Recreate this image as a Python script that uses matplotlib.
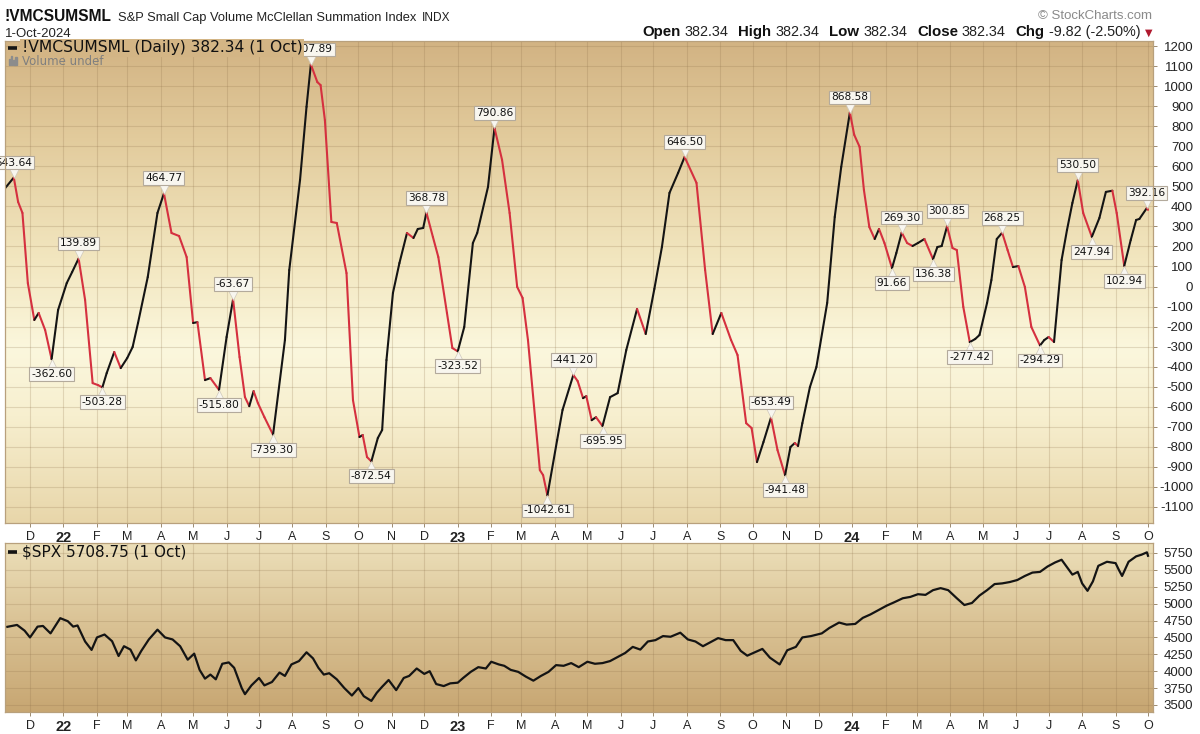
import numpy as np
import pandas as pd
import matplotlib
matplotlib.use("Agg")
import matplotlib.pyplot as plt
import matplotlib.dates as mdates
import matplotlib.transforms as mtransforms
from matplotlib.collections import LineCollection
from matplotlib.colors import to_rgb

plt.rcParams['axes.unicode_minus'] = False

# ---------------- data ----------------
sum_dates = [
    "2021-11-08", "2021-11-16", "2021-11-20", "2021-11-24", "2021-11-29", "2021-12-05", "2021-12-09",
    "2021-12-15", "2021-12-21", "2021-12-27", "2022-01-04", "2022-01-09", "2022-01-15", "2022-01-21",
    "2022-01-28", "2022-02-02", "2022-02-06", "2022-02-10", "2022-02-17", "2022-02-23", "2022-03-01",
    "2022-03-06", "2022-03-11", "2022-03-20", "2022-03-29", "2022-04-04", "2022-04-11", "2022-04-18",
    "2022-04-25", "2022-05-01", "2022-05-05", "2022-05-12", "2022-05-17", "2022-05-25", "2022-06-01",
    "2022-06-07", "2022-06-13", "2022-06-18", "2022-06-22", "2022-06-26", "2022-06-30", "2022-07-06",
    "2022-07-14", "2022-07-25", "2022-07-29", "2022-08-08", "2022-08-14", "2022-08-18", "2022-08-24",
    "2022-08-27", "2022-08-31", "2022-09-06", "2022-09-11", "2022-09-20", "2022-09-26", "2022-10-02",
    "2022-10-05", "2022-10-09", "2022-10-13", "2022-10-19", "2022-10-23", "2022-10-27", "2022-11-02",
    "2022-11-08", "2022-11-15", "2022-11-21", "2022-11-25", "2022-11-30", "2022-12-03", "2022-12-09",
    "2022-12-14", "2022-12-22", "2022-12-27", "2023-01-01", "2023-01-07", "2023-01-15", "2023-01-19",
    "2023-01-29", "2023-02-04", "2023-02-11", "2023-02-18", "2023-02-25", "2023-03-02", "2023-03-07",
    "2023-03-18", "2023-03-21", "2023-03-25", "2023-04-03", "2023-04-08", "2023-04-18", "2023-04-22",
    "2023-04-27", "2023-04-30", "2023-05-05", "2023-05-09", "2023-05-15", "2023-05-22", "2023-05-29",
    "2023-06-06", "2023-06-16", "2023-06-24", "2023-07-02", "2023-07-09", "2023-07-16", "2023-07-24",
    "2023-07-30", "2023-08-10", "2023-08-18", "2023-08-25", "2023-09-02", "2023-09-11", "2023-09-17",
    "2023-09-25", "2023-09-30", "2023-10-05", "2023-10-11", "2023-10-18", "2023-10-24", "2023-10-31",
    "2023-11-05", "2023-11-09", "2023-11-12", "2023-11-16", "2023-11-23", "2023-11-29", "2023-12-09",
    "2023-12-16", "2023-12-22", "2023-12-30", "2024-01-03", "2024-01-08", "2024-01-12", "2024-01-17",
    "2024-01-22", "2024-01-26", "2024-01-31", "2024-02-07", "2024-02-11", "2024-02-16", "2024-02-21",
    "2024-02-26", "2024-03-02", "2024-03-08", "2024-03-16", "2024-03-20", "2024-03-24", "2024-03-29",
    "2024-04-03", "2024-04-07", "2024-04-13", "2024-04-19", "2024-04-24", "2024-04-28", "2024-05-05",
    "2024-05-09", "2024-05-14", "2024-05-19", "2024-05-24", "2024-05-29", "2024-06-03", "2024-06-09",
    "2024-06-15", "2024-06-23", "2024-06-27", "2024-07-01", "2024-07-06", "2024-07-13", "2024-07-18",
    "2024-07-23", "2024-07-28", "2024-08-02", "2024-08-10", "2024-08-17", "2024-08-23", "2024-08-29",
    "2024-09-02", "2024-09-09", "2024-09-15", "2024-09-20", "2024-09-23", "2024-09-30", "2024-10-01",
]
sum_values = [
    491, 543.64, 422, 367, 17, -167, -132,
    -217, -362.60, -117, 17, 72, 139.89, -67,
    -482, -492, -503.28, -432, -327, -407, -357,
    -302, -182, 47, 367, 464.77, 267, 252,
    147, -182, -178, -467, -457, -515.80, -252,
    -63.67, -352, -552, -597, -522, -582, -652,
    -739.30, -267, 82, 532, 897, 1107.89, 1020,
    1005, 830, 322, 317, 67, -567, -751,
    -741, -851, -872.54, -756, -716, -367, -32,
    117, 267, 242, 287, 292, 368.78, 247,
    147, -132, -307, -323.52, -202, 217, 267,
    497, 790.86, 632, 367, -2, -57, -267,
    -916, -941, -1042.61, -766, -616, -441.20, -472,
    -557, -547, -667, -652, -695.95, -552, -532,
    -317, -112, -237, -12, 197, 467, 567,
    646.50, 517, 82, -237, -132, -267, -342,
    -682, -706, -876, -776, -653.49, -816, -941.48,
    -801, -781, -796, -682, -502, -402, -82,
    347, 597, 868.58, 757, 697, 482, 297,
    237, 287, 217, 91.66, 167, 269.30, 217,
    202, 217, 237, 136.38, 197, 202, 300.85,
    192, 182, -102, -277.42, -262, -242, -82,
    32, 237, 268.25, 182, 97, 102, -2,
    -202, -294.29, -267, -252, -277, 132, 282,
    417, 530.50, 367, 247.94, 342, 472, 478,
    367, 102.94, 232, 332, 337, 392.16, 382.34,
]
peak_values = [543.64, 139.89, 464.77, -63.67, 1107.89, 368.78, 790.86, -441.20,
               646.50, -653.49, 868.58, 269.30, 300.85, 268.25, 530.50, 392.16]
trough_values = [-362.60, -503.28, -515.80, -739.30, -872.54, -323.52, -1042.61, -695.95,
                 -941.48, 91.66, 136.38, -277.42, -294.29, 247.94, 102.94]

spx_dates = [
    "2021-11-10", "2021-11-19", "2021-11-26", "2021-12-01", "2021-12-08", "2021-12-13", "2021-12-20",
    "2021-12-29", "2022-01-05", "2022-01-10", "2022-01-14", "2022-01-21", "2022-01-27", "2022-02-01",
    "2022-02-08", "2022-02-15", "2022-02-21", "2022-02-26", "2022-03-04", "2022-03-09", "2022-03-14",
    "2022-03-21", "2022-03-29", "2022-04-05", "2022-04-12", "2022-04-19", "2022-04-26", "2022-05-02",
    "2022-05-07", "2022-05-12", "2022-05-17", "2022-05-22", "2022-05-28", "2022-06-03", "2022-06-08",
    "2022-06-15", "2022-06-18", "2022-06-24", "2022-07-01", "2022-07-06", "2022-07-13", "2022-07-20",
    "2022-07-25", "2022-07-31", "2022-08-07", "2022-08-14", "2022-08-20", "2022-08-25", "2022-08-30",
    "2022-09-04", "2022-09-11", "2022-09-18", "2022-09-25", "2022-10-01", "2022-10-06", "2022-10-13",
    "2022-10-18", "2022-10-23", "2022-10-29", "2022-11-05", "2022-11-12", "2022-11-17", "2022-11-24",
    "2022-12-01", "2022-12-06", "2022-12-12", "2022-12-19", "2022-12-25", "2023-01-01", "2023-01-06",
    "2023-01-13", "2023-01-20", "2023-01-27", "2023-02-01", "2023-02-08", "2023-02-13", "2023-02-19",
    "2023-02-26", "2023-03-05", "2023-03-12", "2023-03-19", "2023-03-26", "2023-04-02", "2023-04-09",
    "2023-04-16", "2023-04-23", "2023-05-01", "2023-05-08", "2023-05-15", "2023-05-22", "2023-05-29",
    "2023-06-05", "2023-06-12", "2023-06-19", "2023-06-26", "2023-07-03", "2023-07-10", "2023-07-17",
    "2023-07-26", "2023-08-02", "2023-08-09", "2023-08-16", "2023-08-23", "2023-08-30", "2023-09-06",
    "2023-09-13", "2023-09-20", "2023-09-26", "2023-10-03", "2023-10-10", "2023-10-17", "2023-10-26",
    "2023-11-02", "2023-11-10", "2023-11-16", "2023-11-24", "2023-12-04", "2023-12-11", "2023-12-20",
    "2023-12-27", "2024-01-04", "2024-01-11", "2024-01-18", "2024-01-25", "2024-02-02", "2024-02-09",
    "2024-02-17", "2024-02-24", "2024-03-02", "2024-03-09", "2024-03-16", "2024-03-23", "2024-03-30",
    "2024-04-07", "2024-04-14", "2024-04-21", "2024-04-28", "2024-05-05", "2024-05-12", "2024-05-19",
    "2024-05-26", "2024-06-02", "2024-06-09", "2024-06-16", "2024-06-23", "2024-06-30", "2024-07-07",
    "2024-07-13", "2024-07-18", "2024-07-23", "2024-07-28", "2024-08-01", "2024-08-06", "2024-08-11",
    "2024-08-16", "2024-08-24", "2024-09-01", "2024-09-04", "2024-09-07", "2024-09-13", "2024-09-20",
    "2024-09-25", "2024-09-30", "2024-10-01",
]
spx_values = [
    4657, 4685, 4600, 4500, 4660, 4670, 4560,
    4785, 4740, 4660, 4677, 4440, 4315, 4500,
    4543, 4444, 4225, 4370, 4320, 4160, 4300,
    4470, 4615, 4500, 4470, 4370, 4170, 4260,
    4020, 3890, 3950, 3880, 4110, 4130, 4050,
    3750, 3660, 3790, 3900, 3790, 3840, 3980,
    3930, 4100, 4150, 4280, 4190, 4050, 3950,
    3970, 3880, 3750, 3640, 3750, 3630, 3560,
    3680, 3770, 3870, 3720, 3900, 3930, 4040,
    3960, 4000, 3810, 3780, 3820, 3830, 3900,
    3990, 4060, 4040, 4140, 4100, 4080, 4020,
    3990, 3920, 3860, 3930, 3990, 4090, 4080,
    4120, 4060, 4140, 4110, 4120, 4150, 4210,
    4270, 4360, 4320, 4440, 4460, 4520, 4510,
    4570, 4470, 4440, 4370, 4430, 4490, 4460,
    4460, 4300, 4230, 4280, 4330, 4200, 4100,
    4310, 4360, 4500, 4520, 4560, 4640, 4720,
    4690, 4700, 4790, 4840, 4900, 4970, 5020,
    5080, 5100, 5140, 5130, 5200, 5230, 5200,
    5080, 4980, 5010, 5120, 5200, 5290, 5300,
    5320, 5350, 5410, 5460, 5470, 5550, 5610,
    5650, 5540, 5430, 5470, 5300, 5190, 5330,
    5560, 5620, 5600, 5500, 5410, 5620, 5700,
    5725, 5760, 5708.75,
]

top_yticks = list(range(-1100, 1201, 100))
bot_yticks = list(range(3500, 5751, 250))

# ---------------- figure ----------------
W, H = 1200, 734
fig = plt.figure(figsize=(12, 7.34), dpi=100)
fig.patch.set_facecolor('white')


def px_axes(l, t, r, b):
    return fig.add_axes([l / W, 1 - b / H, (r - l) / W, (b - t) / H])


ax1 = px_axes(5, 41, 1153, 523)
ax2 = px_axes(5, 543, 1153, 712)

x_ref = mdates.date2num(pd.Timestamp('2021-12-01'))
ppd = 1.0802
xlim = (x_ref + (5 - 30) / ppd, x_ref + (1153 - 30) / ppd)

RED = '#D5303F'
BLACK = '#141414'
GRID = '#8C6E48'
GRID_ALPHA = 0.22
SPINE = '#B8A07C'


def gradient(ax, stops):
    ys = np.linspace(0, 1, 300)
    pos = [s[0] for s in stops]
    rgb = [to_rgb(s[1]) for s in stops]
    cols = np.stack([np.interp(ys, pos, [c[k] for c in rgb]) for k in range(3)], axis=1)
    ax.imshow(cols[:, None, :], extent=[0, 1, 0, 1], transform=ax.transAxes,
              aspect='auto', origin='lower', zorder=0, interpolation='bilinear')


gradient(ax1, [(0.0, '#E8D6AA'), (0.22, '#F7EFCF'), (0.36, '#FBF7DD'),
               (0.55, '#F2E6BF'), (0.8, '#E2CB9C'), (1.0, '#D2B383')])
gradient(ax2, [(0.0, '#C7A672'), (0.5, '#D9C193'), (1.0, '#ECDFB9')])

# ---- top series, coloured by direction ----
sd = mdates.date2num(pd.to_datetime(sum_dates))
sv = np.array(sum_values, dtype=float)
pts = np.column_stack([sd, sv])
segs = np.stack([pts[:-1], pts[1:]], axis=1)
cols = [RED if d < 0 else BLACK for d in np.diff(sv)]
lc = LineCollection(segs, colors=cols, linewidths=1.5, capstyle='round',
                    joinstyle='round', zorder=3)
ax1.add_collection(lc)

# ---- peak / trough labels ----
BOXFC = '#F8F6EF'
BOXEC = '#B3AA9C'
for vals, sign in ((peak_values, 1), (trough_values, -1)):
    for v in vals:
        i = int(np.argmin(np.abs(sv - v)))
        tr = mtransforms.offset_copy(ax1.transData, fig=fig, x=0, y=sign * 3.4, units='points')
        ax1.plot(sd[i], sv[i], marker='v' if sign > 0 else '^', ms=7, mfc=BOXFC,
                 mec='#CFC8BC', mew=0.5, transform=tr, zorder=4, clip_on=False)
        ax1.annotate(f"{v:.2f}", (sd[i], sv[i]), xytext=(0, sign * 10.8),
                     textcoords='offset points', ha='center', va='center',
                     fontsize=7.7, family='DejaVu Sans', color='#111111',
                     bbox=dict(boxstyle='square,pad=0.18', fc=BOXFC, ec=BOXEC, lw=0.8),
                     zorder=5, annotation_clip=False)

# ---- SPX ----
xd = mdates.date2num(pd.to_datetime(spx_dates))
ax2.plot(xd, spx_values, color=BLACK, lw=1.6, zorder=3, solid_joinstyle='round')

# ---- axes styling ----
months = pd.date_range('2021-12-01', '2024-10-01', freq='MS')
mnum = mdates.date2num(months)
mlabels = [str(m.year)[2:] if m.month == 1 else m.strftime('%b')[0] for m in months]

for ax, yt, ylim in ((ax1, top_yticks, (-1180, 1225)), (ax2, bot_yticks, (3396, 5898))):
    ax.set_xlim(*xlim)
    ax.set_ylim(*ylim)
    ax.set_yticks(yt)
    ax.set_yticklabels([str(v) for v in yt])
    ax.yaxis.tick_right()
    ax.set_xticks(mnum)
    ax.set_xticklabels(mlabels)
    ax.set_axisbelow(True)
    ax.grid(True, color=GRID, alpha=GRID_ALPHA, lw=0.8)
    ax.tick_params(axis='y', length=3, width=0.7, color='#9C8B70', pad=26,
                   labelsize=9.5, labelcolor='#222222')
    ax.tick_params(axis='x', length=3, width=0.7, color='#9C8B70', pad=2.5,
                   labelsize=9, labelcolor='#222222')
    for t in ax.get_yticklabels():
        t.set_horizontalalignment('right')
        t.set_family('Liberation Sans')
    for t, m in zip(ax.get_xticklabels(), months):
        t.set_family('Liberation Sans')
        if m.month == 1:
            t.set_fontweight('bold')
            t.set_fontsize(10.5)
    for s in ax.spines.values():
        s.set_color(SPINE)
        s.set_linewidth(0.9)
        s.set_zorder(6)

# ---- in-panel legends ----
ax1.plot([0.0028, 0.0105], [0.9855, 0.9855], transform=ax1.transAxes, color=BLACK,
         lw=2.6, solid_capstyle='butt', zorder=11)
ax1.text(0.0148, 0.9855, "!VMCSUMSML (Daily) 382.34 (1 Oct)", transform=ax1.transAxes,
         va='center', ha='left', fontsize=11.2, family='DejaVu Sans', color='#111111',
         zorder=10, bbox=dict(boxstyle='square,pad=0.1', fc='#D3B585', ec='none'))
for k, hgt in enumerate([0.012, 0.018, 0.009, 0.015]):
    ax1.add_patch(plt.Rectangle((0.0035 + k * 0.0018, 0.951), 0.0012, hgt,
                                transform=ax1.transAxes, color='#8C8C8C', zorder=10))
ax1.text(0.0148, 0.957, "Volume undef", transform=ax1.transAxes, va='center', ha='left',
         fontsize=8.5, family='DejaVu Sans', color='#7F7F7F', zorder=10)

ax2.plot([0.0028, 0.0105], [0.947, 0.947], transform=ax2.transAxes, color=BLACK,
         lw=2.6, solid_capstyle='butt', zorder=11)
ax2.text(0.0148, 0.947, r"\$SPX 5708.75 (1 Oct)", transform=ax2.transAxes,
         va='center', ha='left', fontsize=11.0, family='DejaVu Sans', color='#111111', zorder=10)

# ---- header ----
fig.canvas.draw()
rend = fig.canvas.get_renderer()


def row(pieces, x, ybase, align='left'):
    ts = [fig.text(0, 1 - ybase / H, s, va='baseline', ha='left', **kw) for s, kw, g in pieces]
    ws = [t.get_window_extent(renderer=rend).width for t in ts]
    total = sum(ws) + sum(g for s, kw, g in pieces)
    cur = x if align == 'left' else x - total
    for t, w, (s, kw, g) in zip(ts, ws, pieces):
        t.set_x(cur / W)
        cur += w + g


LS = 'Liberation Sans'
row([("!VMCSUMSML", dict(fontsize=11.2, fontweight='bold', family=LS, color='#111111'), 6),
     ("S&P Small Cap Volume McClellan Summation Index", dict(fontsize=9.3, family=LS, color='#222222'), 6),
     ("INDX", dict(fontsize=8.6, family=LS, color='#222222'), 0)], 5, 21)
fig.text(5 / W, 1 - 37 / H, "1-Oct-2024", va='baseline', ha='left', fontsize=9.5,
         family=LS, color='#222222')
fig.text(1152 / W, 1 - 19 / H, "\u00a9 StockCharts.com", va='baseline', ha='right',
         fontsize=9.5, family=LS, color='#8A8A8A')
B = dict(fontsize=10.8, fontweight='bold', family=LS, color='#111111')
N = dict(fontsize=10.4, family=LS, color='#222222')
row([("Open", B, 4), ("382.34", N, 10), ("High", B, 4), ("382.34", N, 10),
     ("Low", B, 4), ("382.34", N, 10), ("Close", B, 4), ("382.34", N, 10),
     ("Chg", B, 4), ("-9.82 (-2.50%)", N, 4),
     ("\u25bc", dict(fontsize=7, family='DejaVu Sans', color='#B0192E'), 0)], 1152, 36, 'right')

fig.savefig('out.png', dpi=100, facecolor='white')
